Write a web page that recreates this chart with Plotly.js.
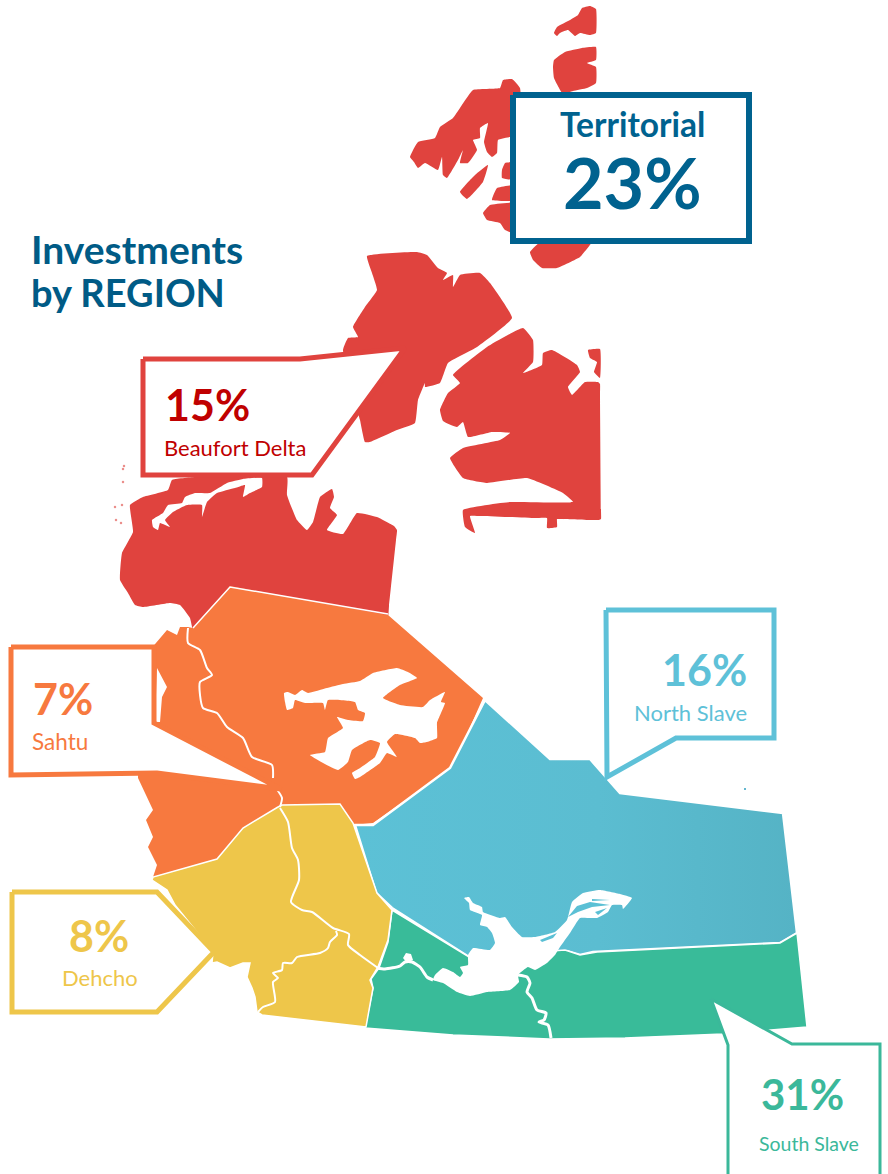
<!DOCTYPE html>
<html>
<head>
<meta charset="utf-8">
<script src="https://cdn.plot.ly/plotly-3.0.1.min.js"></script>
<style>html,body{margin:0;padding:0;background:#fff}#map{width:888px;height:1174px}</style>
</head>
<body>
<div id="map"></div>
<script>
// Region shares
const regionNames = ["Territorial", "Beaufort Delta", "Sahtu", "North Slave", "Dehcho", "South Slave"];
const regionShares = [23, 15, 7, 16, 8, 31];
const titleLines = ["Investments", "by REGION"];

// Colours
const RED = "#e0433e", ORANGE = "#f7793f", YELLOW = "#eec64a", GREEN = "#39bb99", BLUE = "#5bc0d5";
const NAVY = "#00628f", DARKRED = "#c00000", CALLBLUE = "#5ec1d8", CALLGREEN = "#3bb89a";

// Region outlines
const islandTop = [[554,33],[557,27],[570,20],[578,15],[582,8],[590,6],[596,9],[596,33],[590,35],[580,33],[575,36],[568,30],[560,33],[557,36]];
const islandSecond = [[554,60],[565,52],[582,48],[596,47],[596,60],[587,63],[596,67],[596,83],[587,88],[573,91],[563,94],[554,78],[553,67]];
const islandNorthWest = [[410,157],[418,142],[435,138],[440,127],[453,118],[460,108],[473,90],[500,88],[503,80],[512,79],[520,88],[520,137],[510,137],[498,140],[497,153],[492,157],[487,152],[484,142],[488,123],[480,128],[480,138],[473,140],[477,150],[468,163],[460,163],[463,150],[458,160],[447,178],[443,175],[442,157],[438,170],[425,163],[418,168],[414,162]];
const islandSmall = [[460,192],[475,175],[488,165],[483,182],[467,199]];
const islandStripA = [[505,163],[512,162],[520,162],[520,180],[502,178],[502,170]];
const islandStripB = [[492,200],[497,188],[520,185],[520,200]];
const islandStripC = [[483,213],[490,205],[520,203],[520,235],[505,230],[500,223],[487,220]];
const islandBelowBox = [[530,252],[543,240],[593,240],[580,257],[557,268],[542,268],[533,260]];
const islandMiddle = [[367,256],[417,252],[427,255],[438,268],[447,273],[443,280],[453,275],[453,287],[460,275],[480,273],[490,283],[512,318],[477,347],[448,363],[440,383],[425,387],[425,383],[418,400],[415,423],[397,430],[370,442],[365,442],[360,420],[343,350],[348,338],[358,337],[353,327],[365,307],[377,290],[372,273]];
const islandEast = [[453,375],[487,347],[523,328],[533,340],[533,362],[523,373],[542,365],[543,353],[552,350],[577,365],[580,372],[568,387],[572,395],[585,382],[598,382],[600,384],[600,394],[601,510],[601,519],[599,520],[590,520],[560,519],[557,519],[557,527],[547,528],[547,518],[535,518],[480,516],[470,516],[475,533],[465,527],[463,510],[510,502],[573,502],[563,493],[527,478],[487,483],[463,478],[450,458],[463,448],[500,440],[510,433],[492,432],[468,437],[463,422],[457,427],[443,421],[440,410],[448,393],[460,383]];
const islandEastTip = [[588,350],[600,349],[600,378],[594,372],[597,362],[590,358]];
const mainlandNorth = [[120,580],[122,553],[133,532],[130,505],[143,497],[168,490],[172,480],[195,477],[287,477],[287,495],[297,520],[307,530],[313,522],[317,507],[320,497],[332,489],[334,497],[330,508],[337,515],[327,530],[343,534],[357,513],[377,517],[394,526],[397,530],[396,540],[389,606],[388,616],[378,614],[240,592],[230,590],[222,598],[200,622],[193,630],[190,618],[180,605],[170,603],[143,607],[135,605],[128,593]];
const sahtu = [[167,630],[177,635],[180,627],[188,627],[193,628],[230,586],[388,615],[483,698],[452,768],[373,823],[353,825],[340,804],[282,807],[243,828],[217,859],[153,877],[157,865],[148,847],[153,837],[146,820],[153,810],[147,797],[138,778],[140,700],[150,650]];
const dehcho = [[278,807],[282,805],[340,804],[353,823],[377,893],[392,910],[388,940],[378,967],[370,980],[373,988],[366,1027],[262,1015],[257,1012],[255,997],[252,988],[247,977],[250,963],[243,963],[230,968],[217,962],[212,963],[213,952],[175,905],[167,890],[152,880],[153,877],[217,859],[243,828]];
const southSlave = [[392,910],[469,957],[565,950],[580,955],[597,952],[780,943],[797,933],[807,1027],[771,1030],[723,1034],[625,1038],[563,1039],[549,1039],[453,1035],[365,1028],[373,988],[371,979],[379,968],[388,942]];
const northSlave = [[485,700],[550,759],[590,759],[620,793],[783,813],[797,933],[780,943],[593,952],[580,955],[567,951],[555,955],[469,957],[392,908],[376,893],[355,825],[373,825],[450,768]];
const redOrangeBorder = [[193,628],[230,587],[388,614]];

// Lakes and inlets
const greatBearLake = [[284,693],[288,692],[295,695],[302,690],[308,693],[327,688],[343,684],[360,681],[373,673],[397,668],[408,672],[417,678],[400,685],[383,698],[400,705],[423,707],[430,700],[445,692],[441,702],[445,703],[437,723],[437,738],[427,742],[420,743],[415,738],[395,734],[387,742],[397,757],[387,753],[380,763],[360,777],[355,779],[352,773],[360,768],[375,757],[380,743],[370,740],[352,750],[348,762],[338,770],[310,755],[325,752],[328,738],[343,728],[337,717],[348,720],[363,721],[365,713],[358,710],[355,702],[328,700],[325,710],[323,703],[305,703],[295,700],[293,708],[287,710],[285,702]];
const greatSlaveLake = [[464,898],[469,897],[473,903],[482,907],[483,912],[500,918],[505,917],[512,927],[522,937],[535,937],[555,932],[567,920],[572,902],[583,893],[600,890],[620,894],[632,898],[623,909],[622,905],[612,905],[608,912],[597,918],[590,918],[580,918],[570,933],[560,947],[555,955],[547,963],[535,970],[528,967],[518,975],[519,982],[510,990],[487,992],[470,996],[457,992],[443,983],[433,980],[435,975],[443,968],[453,972],[460,977],[463,973],[460,967],[468,965],[468,955],[473,948],[490,950],[495,943],[492,933],[487,927],[480,925],[482,915],[470,910],[469,903]];
const slaveIslandA = [[568,917],[577,906],[590,902],[610,905],[592,907],[578,912]];
const slaveIslandB = [[540,940],[557,933],[553,938],[542,942]];
const slaveIslandC = [[595,912],[607,908],[598,915]];
const slaveIslandD = [[592,899],[610,900],[592,901]];
const deltaInlet = [[262,478],[243,479],[227,483],[210,493],[195,493],[185,497],[182,503],[168,505],[163,513],[152,520],[153,527],[158,530],[160,523],[170,527],[165,520],[173,512],[187,505],[202,505],[202,517],[207,502],[217,493],[235,488],[245,485],[243,497],[250,493],[262,487]];
const sahtuNotch = [[157,668],[167,687],[162,697],[160,722],[155,722]];
const riverBlob = [[403,958],[406,953],[411,954],[413,960],[407,963]];

// Rivers
const riverSahtu = [[188,628],[188,643],[200,650],[207,668],[212,675],[200,682],[200,695],[203,708],[217,713],[227,727],[243,738],[252,757],[272,765],[273,778]];
const riverSahtuLow = [[276,788],[282,798],[280,807]];
const riverMackenzie = [[280,808],[288,822],[292,848],[298,860],[299,880],[291,902],[302,910],[312,912],[333,928],[349,934],[348,945],[360,955],[378,968]];
const riverLiard = [[336,931],[337,935],[330,942],[328,948],[320,953],[297,957],[292,963],[283,963],[282,970],[273,973],[278,978],[273,982],[275,1002],[263,1007],[258,1012]];
const riverSlave = [[518,975],[527,977],[530,983],[527,992],[532,998],[537,1010],[546,1013],[544,1020],[539,1022],[548,1025],[551,1038]];
const riverWest = [[377,968],[385,969],[400,966],[405,962],[412,962],[420,967],[427,977],[433,980]];
const speckBlue = [[745,789]];
const specksRed = [[123,469],[124,466],[123,482],[115,507],[122,505],[116,520],[121,523]];

// Callouts
const calloutTerritorial = [[513,95],[749,95],[749,241],[513,241]];
const calloutBeaufort = [[143,359],[300,359],[405,348],[312,475],[143,475]];
const calloutSahtu = [[11,647],[154,647],[154,723],[281,789],[157,773],[11,775]];
const calloutNorth = [[606,610],[774,610],[774,738],[676,738],[607,777]];
const calloutDehcho = [[12,892],[157,892],[214,952],[157,1012],[12,1012]];
const calloutSouth = [[711,999],[728,1045],[728,1180],[880,1180],[880,1044],[792,1044]];

function area(points, fill, line, width, extra) {
  const closed = points.concat([points[0]]);
  return Object.assign({
    x: closed.map(p => p[0]), y: closed.map(p => p[1]),
    type: "scatter", mode: "lines", fill: "toself", fillcolor: fill,
    line: {color: line || fill, width: width || 0, shape: "linear"},
    hoverinfo: "skip", showlegend: false
  }, extra || {});
}
const rough = {line: {width: 0, shape: "spline", smoothing: 0.35}};
function river(points, width) {
  return {x: points.map(p => p[0]), y: points.map(p => p[1]), type: "scatter", mode: "lines",
    line: {color: "#ffffff", width: width, shape: "spline", smoothing: 0.6}, hoverinfo: "skip", showlegend: false};
}
function specks(points, color, size) {
  return {x: points.map(p => p[0]), y: points.map(p => p[1]), type: "scatter", mode: "markers",
    marker: {size: size, color: color}, hoverinfo: "skip", showlegend: false};
}

const blueGradient = {fillgradient: {type: "horizontal", colorscale: [[0, "#5cc1d6"], [0.55, "#5bbdd1"], [1, "#55b3c5"]]}};
const traces = [
  ...[islandTop, islandSecond, islandNorthWest, islandSmall, islandStripA, islandStripB, islandStripC, islandBelowBox, islandMiddle, islandEast, islandEastTip, mainlandNorth].map(p => area(p, RED, null, 0, rough)),
  specks(specksRed, "#eb8f8c", 2.5),
  area(deltaInlet, "#ffffff", null, 0, rough),
  area(sahtu, ORANGE),
  {x: redOrangeBorder.map(p => p[0]), y: redOrangeBorder.map(p => p[1]), type: "scatter", mode: "lines",
   line: {color: "#ffffff", width: 1.5}, hoverinfo: "skip", showlegend: false},
  area(northSlave, BLUE, "#ffffff", 2.5, blueGradient),
  area(southSlave, GREEN, "#ffffff", 1.5),
  area(dehcho, YELLOW, "#ffffff", 1.5),
  area(greatBearLake, "#ffffff", null, 0, rough),
  area(greatSlaveLake, "#ffffff", null, 0, rough),
  area(riverBlob, "#ffffff"),
  ...[slaveIslandA, slaveIslandB, slaveIslandC, slaveIslandD].map(p => area(p, BLUE)),
  ...[riverSahtu, riverSahtuLow, riverMackenzie, riverLiard].map(p => river(p, 2)),
  ...[riverSlave, riverWest].map(p => river(p, 3)),
  specks(speckBlue, "#2f9fc0", 2),
  area(sahtuNotch, "#ffffff"),
  area(calloutTerritorial, "#ffffff", NAVY, 6),
  area(calloutBeaufort, "#ffffff", RED, 5),
  area(calloutSahtu, "#ffffff", ORANGE, 5),
  area(calloutNorth, "#ffffff", CALLBLUE, 5),
  area(calloutDehcho, "#ffffff", YELLOW, 5),
  area(calloutSouth, "#ffffff", CALLGREEN, 3)
];

const FONT = "Lato, Carlito, Calibri, sans-serif";
function label(text, x, y, size, color, bold, anchor) {
  return {text: bold ? "<b>" + text + "</b>" : text, x: x, y: y, xref: "x", yref: "y",
    showarrow: false, xanchor: anchor, yanchor: "middle", align: anchor,
    font: {family: FONT, size: size, color: color, weight: bold ? 700 : 400}};
}
const pct = v => v + "%";
const annotations = [
  label(titleLines[0], 29, 249, 39, "#005b86", true, "left"),
  label(titleLines[1], 29, 292, 38, "#005b86", true, "left"),
  label(regionNames[0], 632, 124, 33.5, NAVY, true, "center"),
  label(pct(regionShares[0]), 632, 182, 70, NAVY, true, "center"),
  label(pct(regionShares[1]), 163, 404, 43, DARKRED, true, "left"),
  label(regionNames[1], 162, 447, 22, DARKRED, false, "left"),
  label(pct(regionShares[2]), 31, 698, 43, ORANGE, true, "left"),
  label(regionNames[2], 30, 741, 22.5, ORANGE, false, "left"),
  label(pct(regionShares[3]), 749, 669, 43, CALLBLUE, true, "right"),
  label(regionNames[3], 749, 712, 22, CALLBLUE, false, "right"),
  label(pct(regionShares[4]), 99, 935, 43, YELLOW, true, "center"),
  label(regionNames[4], 99.5, 977, 22, YELLOW, false, "center"),
  label(pct(regionShares[5]), 802, 1094, 42, CALLGREEN, true, "center"),
  label(regionNames[5], 808.5, 1143, 19.5, CALLGREEN, false, "center")
];

const hidden = {visible: false, fixedrange: true};
Plotly.newPlot("map", traces, {
  width: 888, height: 1174,
  margin: {l: 0, r: 0, t: 0, b: 0},
  paper_bgcolor: "#ffffff", plot_bgcolor: "#ffffff",
  xaxis: Object.assign({range: [0, 888]}, hidden),
  yaxis: Object.assign({range: [1174, 0]}, hidden),
  annotations: annotations, showlegend: false
}, {displayModeBar: false, staticPlot: true});
</script>
</body>
</html>
